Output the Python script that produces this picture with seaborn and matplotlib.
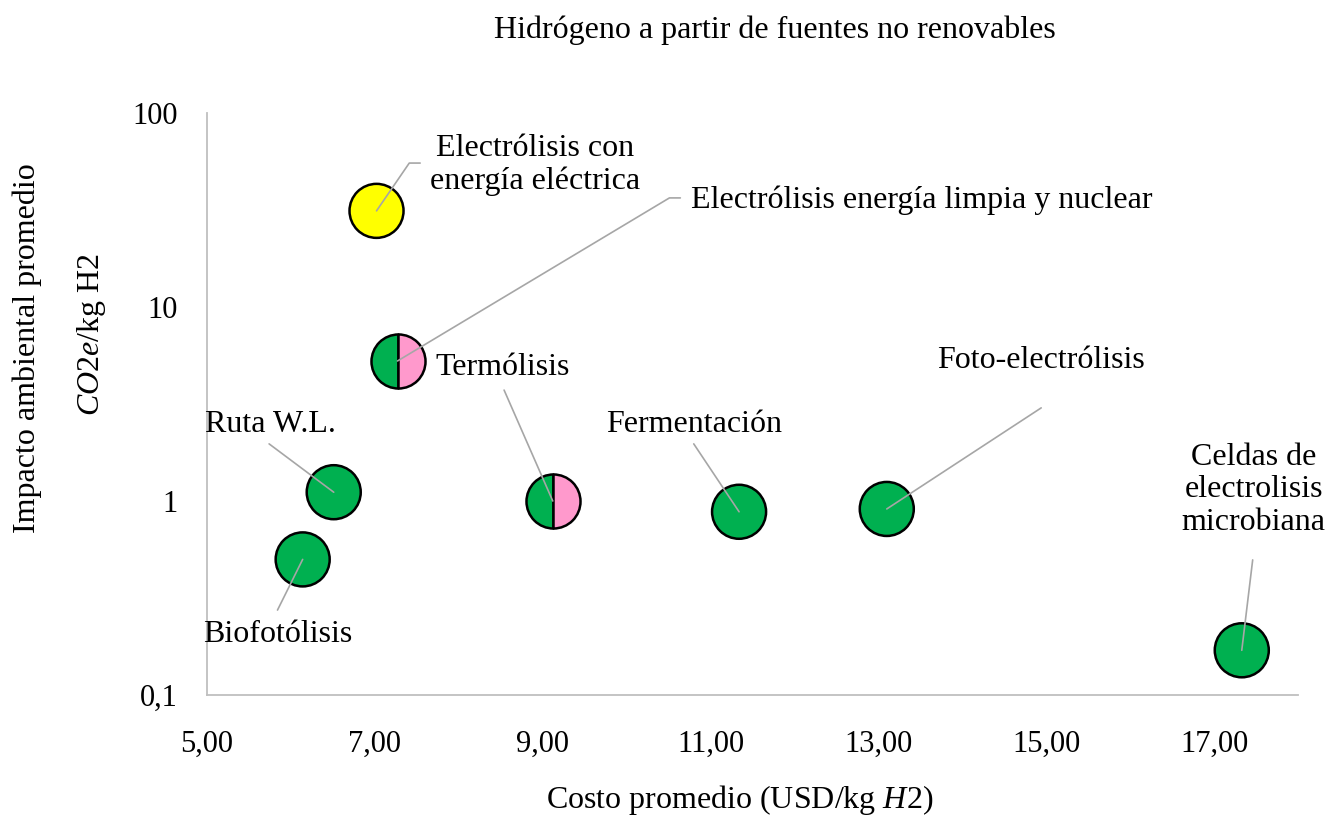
import matplotlib
matplotlib.use("Agg")
import matplotlib.pyplot as plt
import matplotlib.ticker as mticker
import seaborn as sns
import pandas as pd

# ---- data ----
names = ["Electrólisis con\nenergía eléctrica",
         "Electrólisis energía limpia y nuclear",
         "Termólisis", "Ruta W.L.", "Biofotólisis", "Fermentación",
         "Foto-electrólisis", "Celdas de\nelectrolisis\nmicrobiana"]
cost = [7.02, 7.27, 9.12, 6.51, 6.14, 11.34, 13.10, 17.33]
impact = [31.3, 5.27, 1.0, 1.11, 0.50, 0.88, 0.91, 0.17]
kind = ["amarillo", "mixto", "mixto", "verde", "verde", "verde", "verde", "verde"]

x_ticks = [5, 7, 9, 11, 13, 15, 17]
y_ticks = [0.1, 1, 10, 100]
y_tick_labels = ["0,1", "1", "10", "100"]

# label layout (data coordinates): text position, leader path
label_pos = [(8.91, 53.9), (10.77, 35.6), (8.52, 4.85), (5.76, 2.49),
             (5.84, 0.204), (10.80, 2.49), (14.94, 5.27), (17.47, 1.14)]
label_ha = ["center", "left", "center", "center", "center", "center", "center", "center"]
leader_pts = [[(7.41, 55.2), (7.54, 55.2)],
              [(10.51, 36.5), (10.64, 36.5)],
              [(8.54, 3.73)],
              [(5.74, 1.97)],
              [(5.84, 0.274)],
              [(10.80, 1.97)],
              [(14.94, 3.02)],
              [(17.46, 0.497)]]

GREEN = "#00B050"
YELLOW = "#FFFF00"
PINK = "#FF99CC"
GRAY = "#A6A6A6"

df = pd.DataFrame({"name": names, "cost": cost, "impact": impact, "kind": kind})

sns.set_theme(style="white")
plt.rcParams['font.family'] = ['Liberation Serif', 'DejaVu Serif']
plt.rcParams['mathtext.fontset'] = 'custom'
plt.rcParams['mathtext.rm'] = 'Liberation Serif'
plt.rcParams['mathtext.it'] = 'Liberation Serif:italic'
plt.rcParams['text.color'] = 'black'

FS = 23
TFS = 22

fig = plt.figure(figsize=(13.26, 8.25), dpi=100)
ax = fig.add_axes([207/1326, 1-695/825, (1298-207)/1326, (695-113)/825])

ax.set_yscale("log")
ax.set_xlim(5, 18)
ax.set_ylim(0.1, 100)

full = df[df["kind"] != "mixto"]
sns.scatterplot(data=full, x="cost", y="impact", hue="kind",
                palette={"amarillo": YELLOW, "verde": GREEN},
                s=1513, edgecolor="black", linewidth=1.8, legend=False,
                ax=ax, zorder=3, clip_on=False)

mixed = df[df["kind"] == "mixto"]
ax.plot(mixed["cost"], mixed["impact"], linestyle="none", marker="o",
        markersize=38.9, fillstyle="left", markerfacecolor=GREEN,
        markerfacecoloralt=PINK, markeredgecolor="black",
        markeredgewidth=1.8, zorder=3)

# leader lines and labels
for i in range(len(names)):
    xs = [cost[i]] + [p[0] for p in leader_pts[i]]
    ys = [impact[i]] + [p[1] for p in leader_pts[i]]
    ax.plot(xs, ys, color=GRAY, lw=1.2, zorder=4, clip_on=False)
    ax.text(label_pos[i][0], label_pos[i][1], names[i], ha=label_ha[i],
            va="center", fontsize=FS, color="black", linespacing=1.15,
            zorder=5, clip_on=False)

ax.set_xticks(x_ticks)
ax.xaxis.set_major_formatter(mticker.FuncFormatter(lambda v, p: f"{v:.2f}".replace(".", ",")))
ax.set_yticks(y_ticks)
ax.set_yticklabels(y_tick_labels)
ax.yaxis.set_minor_locator(mticker.NullLocator())
ax.tick_params(axis="both", length=0, labelsize=TFS, colors="black")
ax.tick_params(axis="x", pad=25)
ax.tick_params(axis="y", pad=21)
ax.set_xlabel("")
ax.set_ylabel("")

for s in ["top", "right"]:
    ax.spines[s].set_visible(False)
for s in ["left", "bottom"]:
    ax.spines[s].set_color("#BFBFBF")
    ax.spines[s].set_linewidth(1.3)

fig.text(775/1326, 1-30/825, "Hidrógeno a partir de fuentes no renovables",
         ha="center", va="center", fontsize=FS, color="black")
fig.text(740/1326, 1-800/825, "Costo promedio (USD/kg $H2$)",
         ha="center", va="center", fontsize=FS, color="black")
fig.text(27/1326, 1-348/825, "Impacto ambiental promedio", rotation=90,
         ha="center", va="center", fontsize=FS, color="black")
fig.text(92/1326, 1-335/825, "$CO2e$/kg H2", rotation=90,
         ha="center", va="center", fontsize=FS, color="black")

fig.savefig("out.png", dpi=100, facecolor="white")
